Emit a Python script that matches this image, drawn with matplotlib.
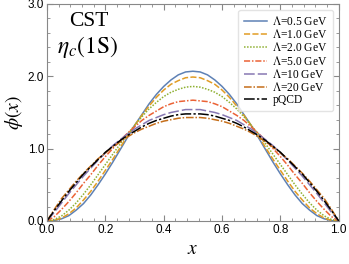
import matplotlib
matplotlib.use("Agg")
import matplotlib.pyplot as plt
from matplotlib.ticker import MultipleLocator

plt.rcParams['mathtext.fontset'] = 'stix'

# x grid and curves
x = [0.0, 0.025, 0.05, 0.075, 0.1, 0.125, 0.15, 0.175, 0.2, 0.225, 0.25,
     0.275, 0.3, 0.325, 0.35, 0.375, 0.4, 0.425, 0.45, 0.475, 0.5,
     0.525, 0.55, 0.575, 0.6, 0.625, 0.65, 0.675, 0.7, 0.725, 0.75,
     0.775, 0.8, 0.825, 0.85, 0.875, 0.9, 0.925, 0.95, 0.975, 1.0]

phi_05 = [0.0, 0.005, 0.03, 0.074, 0.15, 0.24, 0.36, 0.50, 0.65, 0.81, 0.98,
          1.15, 1.32, 1.47, 1.62, 1.75, 1.86, 1.95, 2.02, 2.06, 2.07,
          2.06, 2.02, 1.95, 1.86, 1.75, 1.62, 1.47, 1.32, 1.15, 0.98,
          0.81, 0.65, 0.50, 0.36, 0.24, 0.15, 0.074, 0.03, 0.005, 0.0]
phi_10 = [0.0, 0.008, 0.04, 0.10, 0.18, 0.29, 0.41, 0.55, 0.70, 0.85, 1.01,
          1.17, 1.32, 1.46, 1.59, 1.71, 1.81, 1.89, 1.94, 1.98, 1.99,
          1.98, 1.94, 1.89, 1.81, 1.71, 1.59, 1.46, 1.32, 1.17, 1.01,
          0.85, 0.70, 0.55, 0.41, 0.29, 0.18, 0.10, 0.04, 0.008, 0.0]
phi_20 = [0.0, 0.02, 0.07, 0.15, 0.25, 0.37, 0.50, 0.64, 0.78, 0.92, 1.06,
          1.20, 1.32, 1.44, 1.55, 1.64, 1.72, 1.78, 1.82, 1.85, 1.86,
          1.85, 1.82, 1.78, 1.72, 1.64, 1.55, 1.44, 1.32, 1.20, 1.06,
          0.92, 0.78, 0.64, 0.50, 0.37, 0.25, 0.15, 0.07, 0.02, 0.0]
phi_50 = [0.0, 0.06, 0.16, 0.27, 0.39, 0.52, 0.64, 0.77, 0.89, 1.00, 1.11,
          1.21, 1.30, 1.39, 1.46, 1.52, 1.58, 1.62, 1.65, 1.66, 1.67,
          1.66, 1.65, 1.62, 1.58, 1.52, 1.46, 1.39, 1.30, 1.21, 1.11,
          1.00, 0.89, 0.77, 0.64, 0.52, 0.39, 0.27, 0.16, 0.06, 0.0]
phi_100 = [0.0, 0.12, 0.25, 0.38, 0.50, 0.62, 0.73, 0.84, 0.94, 1.04, 1.12,
           1.20, 1.27, 1.33, 1.39, 1.43, 1.47, 1.50, 1.52, 1.54, 1.54,
           1.54, 1.52, 1.50, 1.47, 1.43, 1.39, 1.33, 1.27, 1.20, 1.12,
           1.04, 0.94, 0.84, 0.73, 0.62, 0.50, 0.38, 0.25, 0.12, 0.0]
phi_200 = [0.0, 0.16, 0.31, 0.43, 0.55, 0.66, 0.76, 0.86, 0.94, 1.02, 1.09,
           1.16, 1.22, 1.27, 1.31, 1.35, 1.38, 1.40, 1.42, 1.43, 1.43,
           1.43, 1.42, 1.40, 1.38, 1.35, 1.31, 1.27, 1.22, 1.16, 1.09,
           1.02, 0.94, 0.86, 0.76, 0.66, 0.55, 0.43, 0.31, 0.16, 0.0]
phi_pqcd = [0.0, 0.144, 0.28, 0.41, 0.53, 0.65, 0.75, 0.85, 0.95, 1.03, 1.11,
            1.18, 1.24, 1.30, 1.35, 1.39, 1.42, 1.45, 1.47, 1.48, 1.48,
            1.48, 1.47, 1.45, 1.42, 1.39, 1.35, 1.30, 1.24, 1.18, 1.11,
            1.03, 0.95, 0.85, 0.75, 0.65, 0.53, 0.41, 0.28, 0.144, 0.0]

labels = [r'$\Lambda$=0.5 GeV', r'$\Lambda$=1.0 GeV', r'$\Lambda$=2.0 GeV',
          r'$\Lambda$=5.0 GeV', r'$\Lambda$=10 GeV', r'$\Lambda$=20 GeV', 'pQCD']
series = [phi_05, phi_10, phi_20, phi_50, phi_100, phi_200, phi_pqcd]
colors = ['#5E81B5', '#E19C24', '#8FB032', '#EB6235', '#8778B3', '#C56E1A', 'black']
styles = ['-', (0, (4, 1.5)), (0, (1, 1)), (0, (4, 1.2, 1, 1.2)),
          (0, (7, 2)), (0, (5, 1.2, 1, 1.2)), (0, (7, 1.5, 1.5, 1.5))]

fig = plt.figure(figsize=(3.49, 2.64), dpi=100)
ax = fig.add_axes([0.1347, 0.163, 0.836, 0.822])

for y, lab, c, ls in zip(series, labels, colors, styles):
    ax.plot(x, y, color=c, linestyle=ls, lw=1.1, label=lab)

ax.set_xlim(0, 1)
ax.set_ylim(0, 3)
ax.set_xticks([0, 0.2, 0.4, 0.6, 0.8, 1.0])
ax.set_xticklabels(['0.0', '0.2', '0.4', '0.6', '0.8', '1.0'])
ax.set_yticks([0, 1, 2, 3])
ax.set_yticklabels(['0.0', '1.0', '2.0', '3.0'])
ax.xaxis.set_minor_locator(MultipleLocator(0.04))
ax.yaxis.set_minor_locator(MultipleLocator(0.2))
ax.tick_params(which='both', direction='in', top=True, right=True, color='#888888')
ax.tick_params(which='major', length=4, width=0.8, labelsize=8.5, pad=2)
ax.tick_params(which='minor', length=2, width=0.6)
for lbl in ax.get_xticklabels() + ax.get_yticklabels():
    lbl.set_family('Liberation Sans')
for s in ax.spines.values():
    s.set_color('#888888')

ax.set_xlabel(r'$x$', fontsize=14, labelpad=2)
ax.set_ylabel(r'$\phi(x)$', fontsize=14, labelpad=2)

ax.text(0.075, 0.92, 'CST', transform=ax.transAxes, fontsize=15.5,
        family='Liberation Serif', va='center')
ax.text(0.034, 0.80, r'$\eta_c(1\mathrm{S})$', transform=ax.transAxes,
        fontsize=17, va='center')

leg = ax.legend(loc='upper right', handlelength=2.0,
                labelspacing=0.02, borderpad=0.45, handletextpad=0.5,
                prop={'family': 'Liberation Serif', 'size': 8.3}, fancybox=True)
leg.get_frame().set_edgecolor('#dddddd')

fig.savefig('out.png', dpi=100)
